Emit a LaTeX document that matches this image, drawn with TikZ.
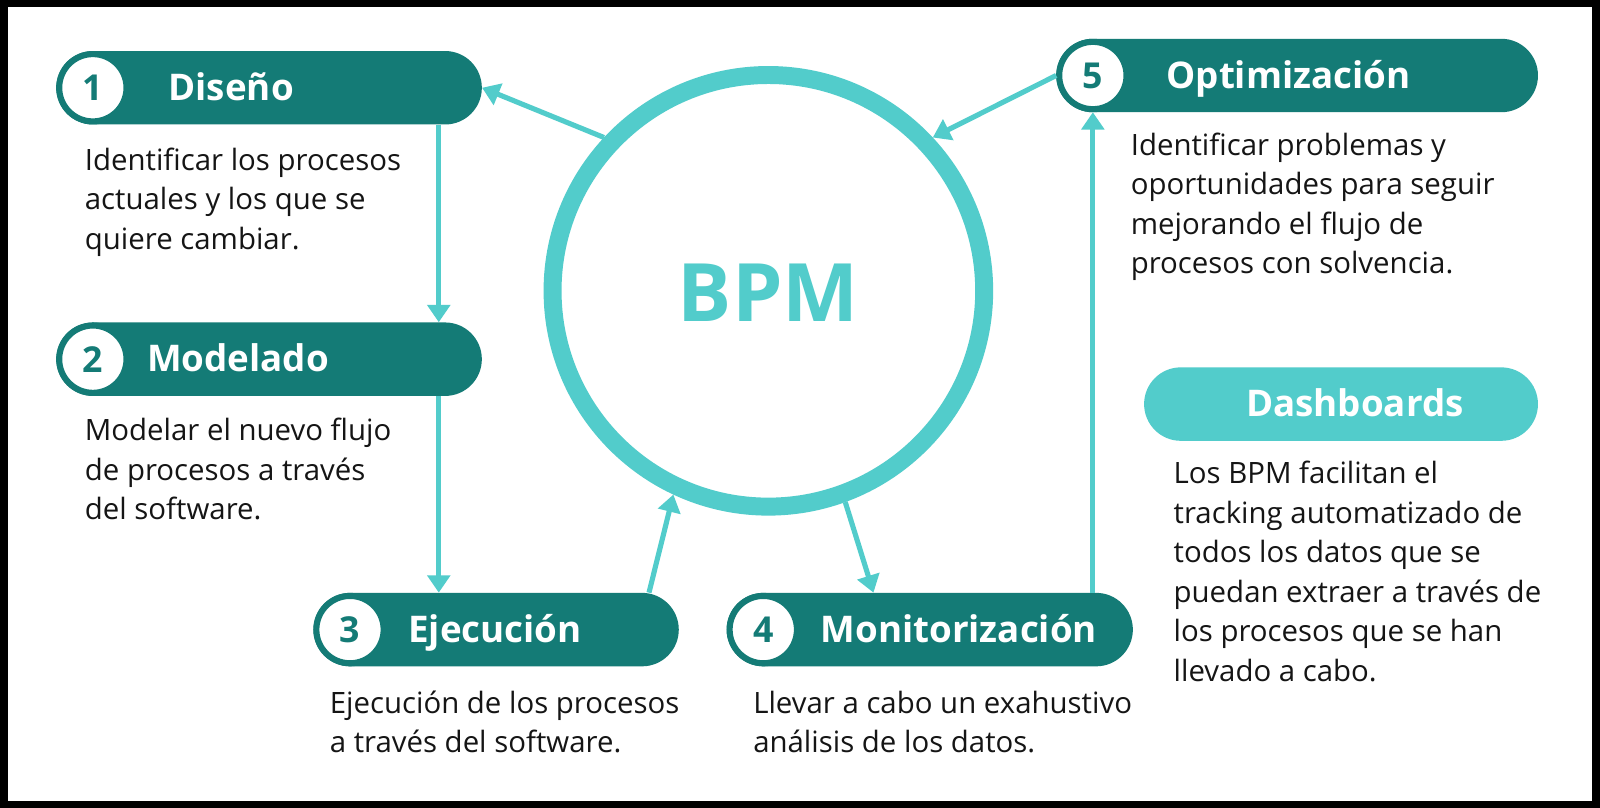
\documentclass[tikz,border=0pt]{standalone}
\usepackage{fontspec}
\setmainfont{Open Sans}
\usetikzlibrary{arrows.meta}
\definecolor{darkteal}{HTML}{147B76}
\definecolor{lightteal}{HTML}{52CCCB}
\definecolor{bodytext}{HTML}{151515}
\newcommand{\bodylines}[1]{\begin{tabular}[t]{@{}l@{}}#1\end{tabular}}
\begin{document}
\begin{tikzpicture}[x=1pt,y=-1pt,
  pill/.style={rectangle, rounded corners=36pt, fill=darkteal, inner sep=0pt, minimum height=72pt, anchor=west},
  numc/.style={circle, fill=white, draw=darkteal, line width=6pt, minimum size=66pt, inner sep=0pt, text=darkteal, font=\fontsize{35}{35}\selectfont\bfseries},
  head/.style={anchor=base west, inner sep=0pt, text=white, font=\fontsize{36}{36}\selectfont\bfseries},
  body/.style={anchor=base west, inner sep=0pt, text=bodytext, font=\fontsize{28.8}{38.7}\selectfont},
  arr/.style={draw=lightteal, line width=5pt, -{Triangle[width=22pt,length=17pt]}, fill=lightteal}
]
\useasboundingbox (0,0) rectangle (1568,791.84);
\fill[black] (0,0) rectangle (1568,791.84);
\fill[white] (7.8,6.9) rectangle (1560.2,785);

% central circle
\node[circle, draw=lightteal, line width=17.6pt, minimum size=423pt, inner sep=0pt] (bpm) at (753,285) {};
\node[text=lightteal, inner sep=0pt, font=\fontsize{79}{79}\selectfont\bfseries] (bpmt) at (753,287) {BPM};

% pills
\node[pill, minimum width=417pt] (p1) at (55,86) {};
\node[pill, minimum width=417pt] (p2) at (55,352) {};
\node[pill, minimum width=358pt] (p3) at (307,617) {};
\node[pill, minimum width=398pt] (p4) at (712,617) {};
\node[pill, minimum width=472pt] (p5) at (1035,74) {};
\node[pill, minimum width=386pt, fill=lightteal] (p6) at (1121,396) {};

% number circles
\node[numc] (c1) at (91,86) {1};
\node[numc] (c2) at (91,352) {2};
\node[numc] (c3) at (343,617) {3};
\node[numc] (c4) at (748,617) {4};
\node[numc] (c5) at (1071,74) {5};

% headings
\node[head] (h1) at (165,98.5) {Diseño};
\node[head] (h2) at (144,364.5) {Modelado};
\node[head] (h3) at (400,629.5) {Ejecución};
\node[head] (h4) at (804,629.5) {Monitorización};
\node[head] (h5) at (1143,86.5) {Optimización};
\node[head] (h6) at (1221,408.5) {Dashboards};

% body texts
\node[body] (t1) at (83,167) {\bodylines{Identificar los procesos\\actuales y los que se\\quiere cambiar.}};
\node[body] (t2) at (83,432) {\bodylines{Modelar el nuevo flujo\\de procesos a través\\del software.}};
\node[body] (t3) at (323,699) {\bodylines{Ejecución de los procesos\\a través del software.}};
\node[body] (t4) at (738,699) {\bodylines{Llevar a cabo un exahustivo\\análisis de los datos.}};
\node[body] (t5) at (1108,152) {\bodylines{Identificar problemas y\\oportunidades para seguir\\mejorando el flujo de\\procesos con solvencia.}};
\node[body] (t6) at (1150,474) {\bodylines{Los BPM facilitan el\\tracking automatizado de\\todos los datos que se\\puedan extraer a través de\\los procesos que se han\\llevado a cabo.}};

% connectors
\coordinate (a12) at (430,0);
\coordinate (a3) at (636,0);
\coordinate (a4) at (856,0);
\draw[arr] (p1.south -| a12) -- (p2.north -| a12);
\draw[arr] (p2.south -| a12) -- (p3.north -| a12);
\draw[arr] (p3.north -| a3) -- (bpm.245);
\draw[arr] (bpm.290) -- (p4.north -| a4);
\draw[arr] (p4.north -| c5) -- (c5.south);
\draw[arr] (c5.west) -- (bpm.43);
\draw[arr] (bpm.137) -- (p1.east);
\end{tikzpicture}
\end{document}
